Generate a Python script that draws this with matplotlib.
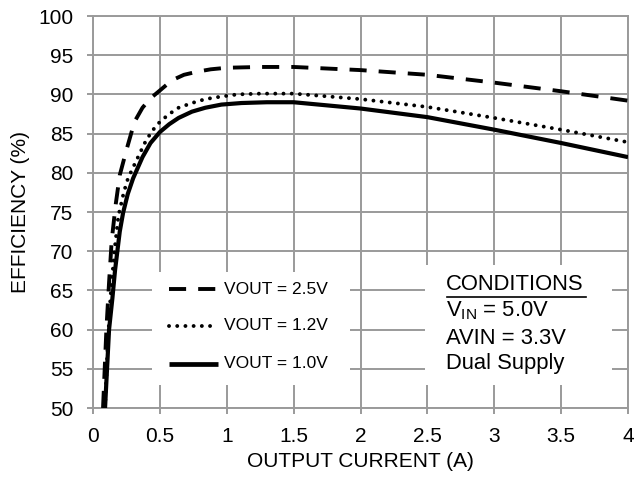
import matplotlib
matplotlib.use('Agg')
import matplotlib.pyplot as plt
from matplotlib.patches import Rectangle
from matplotlib.lines import Line2D

plt.rcParams['font.family'] = ['Liberation Sans', 'DejaVu Sans']
plt.rcParams['mathtext.fontset'] = 'custom'
plt.rcParams['mathtext.rm'] = 'Liberation Sans'

# 读图得到的数据 (输出电流 A, 效率 %)
I_25 = [0.075, 0.10, 0.12, 0.14, 0.17, 0.20, 0.25, 0.31, 0.37, 0.43, 0.50,
        0.59, 0.68, 0.78, 0.88, 1.0, 1.25, 1.5, 2.0, 2.5, 3.0, 3.5, 4.0]
E_25 = [50, 60, 66, 71.4, 76.0, 79.7, 82.9, 86.5, 88.3, 89.5, 90.5,
        91.8, 92.5, 92.9, 93.2, 93.4, 93.5, 93.5, 93.1, 92.5, 91.5, 90.4, 89.2]

I_12 = [0.09, 0.11, 0.13, 0.16, 0.19, 0.23, 0.26, 0.30, 0.39, 0.44, 0.50,
        0.57, 0.64, 0.74, 0.84, 0.95, 1.08, 1.25, 1.5, 2.0, 2.5, 3.0, 3.5, 4.0]
E_12 = [50, 58, 64, 70, 74.5, 77.5, 79.2, 80.7, 83.9, 85.3, 86.5,
        87.5, 88.3, 88.9, 89.4, 89.7, 90.0, 90.1, 90.1, 89.4, 88.4, 87.0, 85.5, 83.9]

I_10 = [0.09, 0.12, 0.145, 0.165, 0.20, 0.225, 0.26, 0.30, 0.37, 0.43, 0.50,
        0.57, 0.64, 0.74, 0.84, 0.96, 1.11, 1.3, 1.5, 2.0, 2.5, 3.0, 3.5, 4.0]
E_10 = [50, 60, 64, 67.6, 72.5, 74.9, 77.3, 79.3, 82.0, 83.8, 85.2,
        86.2, 87.0, 87.8, 88.3, 88.7, 88.9, 89.0, 89.0, 88.2, 87.1, 85.5, 83.8, 82.0]

LABELS = ['VOUT = 2.5V', 'VOUT = 1.2V', 'VOUT = 1.0V']
X_TICKS = [0, 0.5, 1, 1.5, 2, 2.5, 3, 3.5, 4]
X_TICK_LABELS = ['0', '0.5', '1', '1.5', '2', '2.5', '3', '3.5', '4']
Y_TICKS = list(range(50, 101, 5))

COND_LINES = ['CONDITIONS', 'V$_{\\mathrm{IN}}$ = 5.0V', 'AVIN = 3.3V', 'Dual Supply']

GRID_C = '#9a9a9a'
W, H = 634, 480


def px(x, y):
    """像素坐标 -> 坐标轴比例坐标"""
    l, b, r, t = 93, 408, 628, 16
    return (x - l) / (r - l), (b - y) / (b - t)


fig = plt.figure(figsize=(W / 100, H / 100), dpi=100)
ax = fig.add_axes([93 / W, 1 - 408 / H, (628 - 93) / W, (408 - 16) / H])

dash_style = dict(color='black', lw=2.8, linestyle=(0, (4.4, 3.1)), dash_capstyle='butt')
dot_style = dict(color='black', lw=2.8, linestyle=(0, (0.01, 2.1)), dash_capstyle='round')
solid_style = dict(color='black', lw=3.0, linestyle='-', solid_capstyle='butt')

ax.plot(I_25, E_25, zorder=4, **dash_style)
ax.plot(I_12, E_12, zorder=4, **dot_style)
ax.plot(I_10, E_10, zorder=4, **solid_style)

ax.set_xlim(0, 4)
ax.set_ylim(50, 100)
ax.set_xticks(X_TICKS)
ax.set_xticklabels(X_TICK_LABELS)
ax.set_yticks(Y_TICKS)
ax.grid(True, color=GRID_C, lw=1.4, zorder=0)
ax.set_axisbelow(True)
for s in ax.spines.values():
    s.set_color(GRID_C)
    s.set_linewidth(1.4)
ax.tick_params(direction='out', length=4, width=1.4, color=GRID_C, labelsize=15)
ax.tick_params(axis='x', pad=10)
ax.tick_params(axis='y', pad=10)
ax.set_xlabel('OUTPUT CURRENT (A)', fontsize=15, labelpad=4)
ax.set_ylabel('EFFICIENCY (%)', fontsize=15, labelpad=6)

# 白色底框 (图例和条件说明)
x0, y0 = px(152, 385)
x1, y1 = px(350, 272)
ax.add_patch(Rectangle((x0, y0), x1 - x0, y1 - y0, transform=ax.transAxes,
                       facecolor='white', edgecolor='none', zorder=2))
x0, y0 = px(425, 385)
x1, y1 = px(612, 265)
ax.add_patch(Rectangle((x0, y0), x1 - x0, y1 - y0, transform=ax.transAxes,
                       facecolor='white', edgecolor='none', zorder=2))

# 图例 (手工绘制)
styles = [dash_style, dot_style, dict(solid_style, lw=3.4)]
rows_y = [289, 326, 364]
for lab, st, yy in zip(LABELS, styles, rows_y):
    a, b = px(169, yy)
    c, _ = px(218, yy)
    ax.add_line(Line2D([a, c], [b, b], transform=ax.transAxes, zorder=5, **st))
    tx, _ = px(224, yy)
    ax.text(tx, b, lab, transform=ax.transAxes, fontsize=12.5,
            va='center', ha='left', zorder=5)

# 条件说明
cond_y = [285, 311, 338, 363]
for line, yy in zip(COND_LINES, cond_y):
    tx, ty = px(446, yy)
    ax.text(tx, ty, line, transform=ax.transAxes, fontsize=15.8,
            va='center', ha='left', zorder=5)
a, b = px(447, 297)
c, _ = px(586, 297)
ax.add_line(Line2D([a, c], [b, b], transform=ax.transAxes, color='black', lw=1.2, zorder=5))

fig.savefig('out.png', dpi=100)
